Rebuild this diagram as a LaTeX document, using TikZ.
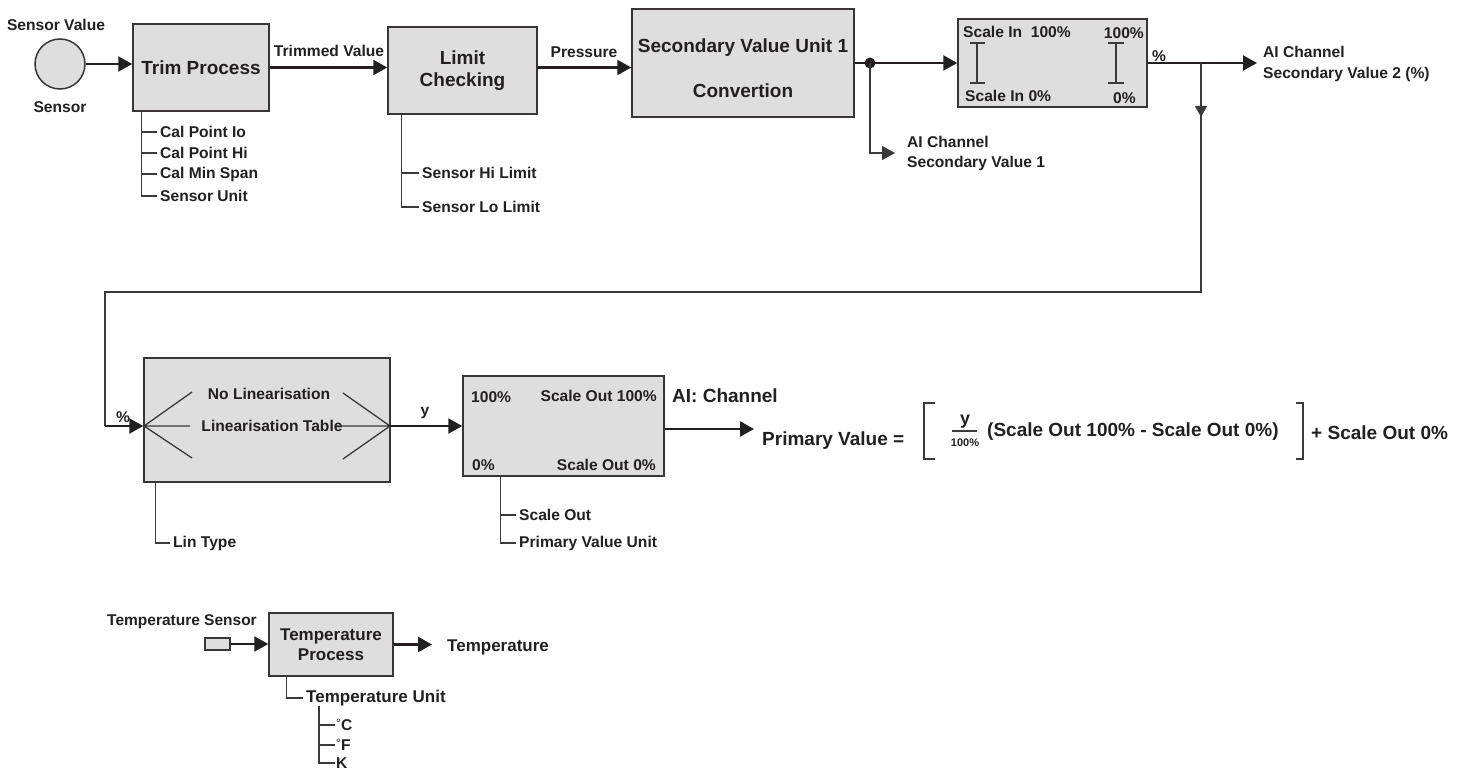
\documentclass[tikz,border=0pt]{standalone}
\usepackage{fontspec}
\setmainfont{Liberation Sans}
\usetikzlibrary{arrows.meta}
\definecolor{ink}{HTML}{231F20}
\definecolor{boxfill}{HTML}{DEDEDE}
\definecolor{wire}{HTML}{3A3A3A}
\tikzset{
  blk/.style={draw=ink!90, line width=1.5pt, fill=boxfill, inner sep=0pt, text=ink},
  big/.style={font=\fontsize{19}{22}\selectfont\bfseries, text=ink, inner sep=0pt},
  mid/.style={font=\fontsize{17}{20}\selectfont\bfseries, text=ink, inner xsep=3pt, inner ysep=0pt},
  sm/.style={font=\fontsize{15.6}{20}\selectfont\bfseries, text=ink, inner xsep=3pt, inner ysep=0pt},
  tiny/.style={font=\fontsize{11}{12}\selectfont\bfseries, text=ink, inner sep=0pt},
  flow/.style={draw=ink, line width=2.3pt, -{Triangle[length=14pt,width=15pt]}},
  tflow/.style={draw=wire, line width=1.3pt, -{Triangle[length=13pt,width=14pt]}},
  thin/.style={draw=wire, line width=1.3pt},
}
\begin{document}
\begin{tikzpicture}[x=1pt,y=-1pt]
\path[use as bounding box] (0,0) rectangle (1466,773);

% ---------- sensor and trim
\node[blk, circle, minimum size=50pt] (sensor) at (60,64) {};
\node[sm] (sensorval) at (56,25) {Sensor Value};
\node[sm] (sensorlbl) at (60,107) {Sensor};
\node[blk, big, minimum width=136pt, minimum height=87pt] (trim) at (201,67.5) {Trim Process};
\draw[flow] (sensor.east) -- (sensor.east -| trim.west);

\coordinate (tr0) at ([xshift=9pt]trim.south west);
\node[sm, anchor=west] (cal1) at (157,132) {Cal Point Io};
\node[sm, anchor=west] (cal2) at (157,153) {Cal Point Hi};
\node[sm, anchor=west] (cal3) at (157,174) {Cal Min Span};
\node[sm, anchor=west] (cal4) at (157,196) {Sensor Unit};
\draw[thin] (tr0) |- (cal4.west);
\draw[thin] (tr0 |- cal1.west) -- (cal1.west);
\draw[thin] (tr0 |- cal2.west) -- (cal2.west);
\draw[thin] (tr0 |- cal3.west) -- (cal3.west);

% ---------- limit checking
\node[blk, big, align=center, minimum width=149pt, minimum height=87pt] (limit) at (462.5,70.5) {Limit\\Checking};
\draw[flow] (trim.east) -- (trim.east -| limit.west);
\node[sm] (trimmed) at (329,51) {Trimmed Value};
\coordinate (lm0) at ([xshift=14pt]limit.south west);
\node[sm, anchor=west] (shi) at (419,173) {Sensor Hi Limit};
\node[sm, anchor=west] (slo) at (419,207) {Sensor Lo Limit};
\draw[thin] (lm0) |- (slo.west);
\draw[thin] (lm0 |- shi.west) -- (shi.west);

% ---------- secondary value
\node[blk, minimum width=222pt, minimum height=108pt] (sec) at (743,63) {};
\node[big] (sec1) at (743,48) {Secondary Value Unit 1};
\node[big] (sec2) at (743,91) {Convertion};
\draw[flow] (limit.east |- trim.east) -- (sec.west |- trim.east);
\node[sm] (press) at (584,52) {Pressure};

% ---------- scale in
\node[blk, minimum width=189pt, minimum height=88pt] (scin) at (1052.5,63) {};
\node[sm, anchor=west, inner xsep=0pt] (si100) at (963,32) {Scale In\ \ 100\%};
\node[sm, anchor=east, inner xsep=0pt] (r100) at (1144,33) {100\%};
\node[sm, anchor=west, inner xsep=0pt] (si0) at (965,96) {Scale In 0\%};
\node[sm, inner xsep=0pt] (r0) at (1124.5,98) {0\%};
\draw[thin] (970,43) -- (985,43) (977,43) -- (977,83) (970,83) -- (985,83);
\draw[thin] (1108,43) -- (1124,43) (1116,43) -- (1116,83) (1108,83) -- (1124,83);

\coordinate (j1) at (870,63);
\draw[flow] (sec.east) -- (scin.west);
\fill[ink] (j1) circle[radius=5.5];
\coordinate (sv1) at (895,153);
\draw[tflow] (j1) |- (sv1);
\node[sm, anchor=west, align=left] (sv1lbl) at (904,153) {AI Channel\\Secondary Value 1};

\coordinate (sv2) at (1257,63);
\draw[flow] (scin.east) -- (sv2);
\node[sm] (pct1) at (1159,56) {\%};
\node[sm, anchor=west, align=left, font=\fontsize{15.6}{21}\selectfont\bfseries] (sv2lbl) at (1260,63.5) {AI Channel\\Secondary Value 2 (\%)};

% ---------- feedback loop
\coordinate (j2) at (1201,63);
\coordinate (darr) at (1201,117);
\coordinate (c1) at (1201,292);
\coordinate (c2) at (105,292);
\coordinate (c3) at (105,426);
\draw[thin] (j2) -- (c1) -- (c2) -- (c3);
\draw[draw=wire, line width=1.3pt, -{Triangle[length=11pt,width=12pt]}] (j2) -- (darr);

% ---------- linearisation
\node[blk, minimum width=246pt, minimum height=124pt] (lin) at (267,420) {};
\draw[flow] (c3) -- (c3 -| lin.west);
\node[sm] (pct2) at (123,417) {\%};
\coordinate (L) at (144,426);
\coordinate (R) at (390,426);
\node[sm] (nolin) at (269,394) {No Linearisation};
\node[sm] (lintab) at (272,426) {Linearisation Table};
\draw[thin] (192,392) -- (L) -- (192,458) (L) -- (190,426);
\draw[thin] (343,393) -- (R) -- (343,459) (335,426) -- (R);
\coordinate (ln0) at ([xshift=12pt]lin.south west);
\node[sm, anchor=west] (lintype) at (170,543) {Lin Type};
\draw[thin] (ln0) |- (lintype.west);

% ---------- scale out
\node[blk, minimum width=201pt, minimum height=100pt] (sout) at (563.5,426) {};
\draw[flow] (R) -- (R -| sout.west);
\node[sm] (ylbl) at (425,413) {y};
\node[sm, anchor=west, inner xsep=0pt] (o100) at (471,397) {100\%};
\node[sm, anchor=east, inner xsep=0pt] (so100) at (657,396) {Scale Out 100\%};
\node[sm, anchor=west, inner xsep=0pt] (o0) at (472,465) {0\%};
\node[sm, anchor=east, inner xsep=0pt] (so0) at (656,465) {Scale Out 0\%};
\coordinate (st) at ([xshift=38pt]sout.south west);
\node[sm, anchor=west] (sol) at (516,515) {Scale Out};
\node[sm, anchor=west] (pvu) at (516,543) {Primary Value Unit};
\draw[thin] (st) |- (pvu.west);
\draw[thin] (st |- sol.west) -- (sol.west);

% ---------- formula
\coordinate (pv) at (754,429);
\draw[flow] (sout.east |- pv) -- (pv);
\node[big, anchor=west] (aich) at (672,396) {AI: Channel};
\node[big, anchor=west] (pvtxt) at (762,441) {Primary Value =};
\draw[thin] (935,403) -- (924,403) -- (924,459) -- (935,459);
\node[font=\fontsize{18}{18}\selectfont\bfseries, text=ink, inner sep=0pt] (fy) at (965,422) {y};
\draw[thin] (952,431) -- (977,431);
\node[tiny] (f100) at (965,443) {100\%};
\node[big, anchor=west] (paren) at (987,432) {(Scale Out 100\% - Scale Out 0\%)};
\draw[thin] (1296,403) -- (1303,403) -- (1303,459) -- (1296,459);
\node[big, anchor=west] (plus) at (1311,433) {+ Scale Out 0\%};

% ---------- temperature
\node[sm, font=\fontsize{15.5}{18}\selectfont\bfseries] (tslbl) at (182,622) {Temperature Sensor};
\node[blk, line width=1.1pt, minimum width=25pt, minimum height=12pt] (tsens) at (217.5,644) {};
\node[blk, mid, align=center, inner sep=0pt, minimum width=124pt, minimum height=63pt] (temp) at (331,644.5) {Temperature\\Process};
\draw[flow] (tsens.east) -- (tsens.east -| temp.west);
\coordinate (tout) at (432,644.5);
\draw[flow] (temp.east) -- (tout);
\node[mid, anchor=west] (toutlbl) at (444,647) {Temperature};
\coordinate (tt) at ([xshift=18pt]temp.south west);
\node[mid, anchor=west] (tunit) at (303,698) {Temperature Unit};
\draw[thin] (tt) |- (tunit.west);
\coordinate (tu0) at (319,706);
\node[sm, anchor=west, inner xsep=1pt] (degc) at (335,725) {\raisebox{3pt}{\fontsize{12}{12}\selectfont\mdseries °}C};
\node[sm, anchor=west, inner xsep=1pt] (degf) at (335,745) {\raisebox{3pt}{\fontsize{12}{12}\selectfont\mdseries °}F};
\node[sm, anchor=west, inner xsep=1pt] (kel) at (335,763) {K};
\draw[thin] (tu0) |- (kel.west);
\draw[thin] (tu0 |- degc.west) -- (degc.west);
\draw[thin] (tu0 |- degf.west) -- (degf.west);
\end{tikzpicture}
\end{document}
